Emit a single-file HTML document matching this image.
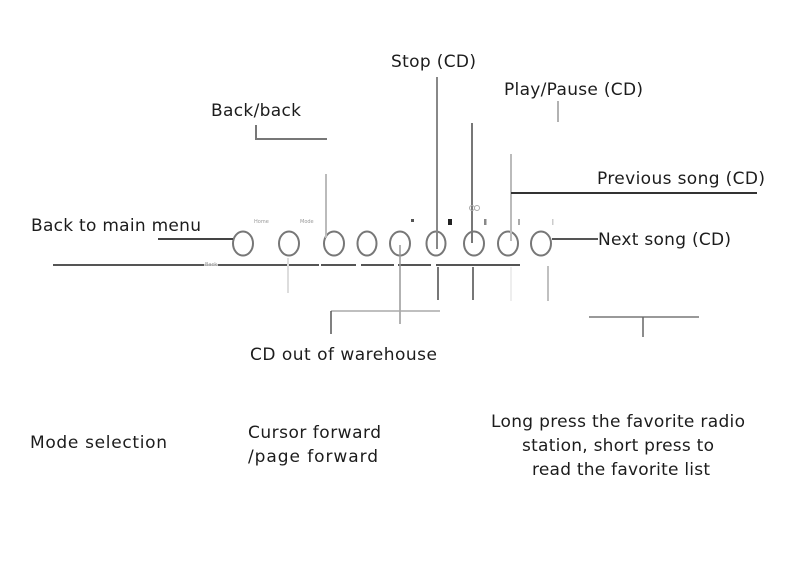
<!DOCTYPE html>
<html>
<head>
<meta charset="utf-8">
<style>
html,body{margin:0;padding:0;background:#fff;}
svg{display:block;}
text{font-family:"DejaVu Sans","Liberation Sans",sans-serif;font-size:17px;fill:#1c1c1c;}
text.s{font-size:5px;fill:#999;}
</style>
</head>
<body>
<svg width="800" height="573" viewBox="0 0 800 573" xmlns="http://www.w3.org/2000/svg">
<rect width="800" height="573" fill="#fff"/>
<!-- base line -->
<g stroke="#555" stroke-width="2" fill="none">
<line x1="53" y1="265" x2="204" y2="265"/>
<line x1="218" y1="265" x2="319" y2="265"/>
<line x1="321" y1="265" x2="356" y2="265"/>
<line x1="361" y1="265" x2="394" y2="265"/>
<line x1="398" y1="265" x2="431" y2="265"/>
<line x1="436" y1="265" x2="520" y2="265"/>
</g>
<line x1="204" y1="265" x2="218" y2="265" stroke="#ccc" stroke-width="2"/>
<!-- buttons -->
<g stroke="#777" stroke-width="2" fill="none">
<ellipse cx="243" cy="243.500" rx="10" ry="12"/>
<ellipse cx="289" cy="243.500" rx="10" ry="12"/>
<ellipse cx="334" cy="243.500" rx="10" ry="12"/>
<ellipse cx="367" cy="243.500" rx="9.500" ry="12"/>
<ellipse cx="400" cy="243.500" rx="10" ry="12"/>
<ellipse cx="436" cy="243.500" rx="9.500" ry="12"/>
<ellipse cx="474" cy="243.500" rx="10" ry="12"/>
<ellipse cx="508" cy="243.500" rx="10" ry="12"/>
<ellipse cx="541" cy="243.500" rx="10" ry="12"/>
</g>
<!-- connectors -->
<g fill="none">
<line x1="158" y1="239" x2="233" y2="239" stroke="#444" stroke-width="2"/>
<polyline points="256,125 256,139 327,139" stroke="#777" stroke-width="2"/>
<line x1="326" y1="174" x2="326" y2="238" stroke="#bbb" stroke-width="2"/>
<line x1="288" y1="258" x2="288" y2="293" stroke="#ddd" stroke-width="2"/>
<line x1="437" y1="77" x2="437" y2="249" stroke="#888" stroke-width="2"/>
<line x1="472" y1="123" x2="472" y2="243" stroke="#777" stroke-width="2"/>
<line x1="558" y1="101" x2="558" y2="122" stroke="#999" stroke-width="1.500"/>
<line x1="511" y1="154" x2="511" y2="241" stroke="#bbb" stroke-width="2"/>
<line x1="511" y1="193" x2="757" y2="193" stroke="#333" stroke-width="2"/>
<line x1="552" y1="239" x2="598" y2="239" stroke="#555" stroke-width="2"/>
<line x1="400" y1="245" x2="400" y2="324" stroke="#999" stroke-width="1.500"/>
<line x1="331" y1="311" x2="440" y2="311" stroke="#aaa" stroke-width="1.500"/>
<line x1="331" y1="311" x2="331" y2="334" stroke="#555" stroke-width="1.500"/>
<line x1="438" y1="267" x2="438" y2="300" stroke="#777" stroke-width="2"/>
<line x1="473" y1="267" x2="473" y2="300" stroke="#777" stroke-width="2"/>
<line x1="511" y1="267" x2="511" y2="301" stroke="#eee" stroke-width="2"/>
<line x1="548" y1="266" x2="548" y2="301" stroke="#aaa" stroke-width="1.500"/>
<line x1="589" y1="317" x2="699" y2="317" stroke="#999" stroke-width="2"/>
<line x1="643" y1="317" x2="643" y2="337" stroke="#666" stroke-width="1.500"/>
</g>
<!-- tiny icons -->
<rect x="411" y="219" width="3" height="3" fill="#555"/>
<rect x="448" y="219" width="4" height="6" fill="#222"/>
<rect x="484" y="219" width="2.500" height="6" fill="#888"/>
<rect x="518" y="219" width="2" height="6" fill="#aaa"/>
<rect x="552" y="219" width="1.500" height="6" fill="#ccc"/>
<circle cx="472" cy="208" r="2.500" fill="none" stroke="#aaa" stroke-width="1"/>
<circle cx="477" cy="208" r="2.500" fill="none" stroke="#aaa" stroke-width="1"/>
<!-- small labels -->
<text class="s" x="254" y="223">Home</text>
<text class="s" x="300" y="223">Mode</text>
<text class="s" x="205" y="266">Back</text>
<!-- labels -->
<text x="391" y="67" textLength="85" lengthAdjust="spacing">Stop (CD)</text>
<text x="504" y="95" textLength="139" lengthAdjust="spacing">Play/Pause (CD)</text>
<text x="211" y="116" textLength="90" lengthAdjust="spacing">Back/back</text>
<text x="597" y="184" textLength="168" lengthAdjust="spacing">Previous song (CD)</text>
<text x="31" y="231" textLength="170" lengthAdjust="spacing">Back to main menu</text>
<text x="598" y="245" textLength="133" lengthAdjust="spacing">Next song (CD)</text>
<text x="250" y="360" textLength="187" lengthAdjust="spacing">CD out of warehouse</text>
<text x="30" y="448" textLength="137" lengthAdjust="spacing">Mode selection</text>
<text x="248" y="438" textLength="133" lengthAdjust="spacing">Cursor forward</text>
<text x="248" y="462" textLength="130" lengthAdjust="spacing">/page forward</text>
<text x="491" y="427" textLength="254" lengthAdjust="spacing">Long press the favorite radio</text>
<text x="522" y="451" textLength="192" lengthAdjust="spacing">station, short press to</text>
<text x="532" y="475" textLength="178" lengthAdjust="spacing">read the favorite list</text>
</svg>
</body>
</html>
